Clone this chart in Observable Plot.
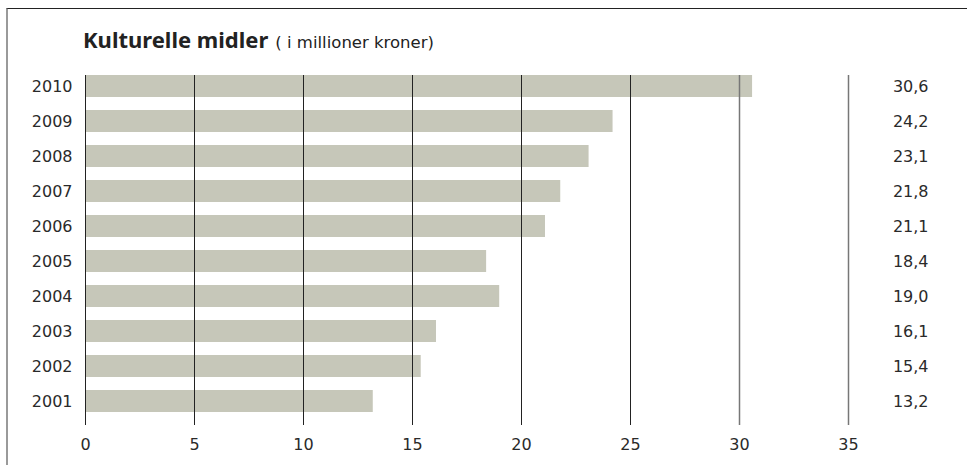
<!DOCTYPE html>
<html>
<head>
<meta charset="utf-8">
<script src="https://cdn.jsdelivr.net/npm/d3@7"></script>
<script src="https://cdn.jsdelivr.net/npm/@observablehq/plot@0.6"></script>
<style>
  html, body { margin: 0; padding: 0; background: #fff; }
  #wrap { position: relative; width: 967px; height: 465px; overflow: hidden; font-family: "DejaVu Sans", sans-serif; }
  #frame { position: absolute; left: 6px; top: 8px; right: -10px; bottom: -10px; border-left: 2px solid #9a9a9a; border-top: 1px solid #222; }
  #title { position: absolute; left: 83px; top: 28px; line-height: 1; white-space: nowrap; color: #222; }
  #title b { font-family: "Noto Sans", sans-serif; font-size: 22px; font-weight: 700; }
  #title span { font-family: "DejaVu Sans", sans-serif; font-size: 16.5px; margin-left: 2px; }
  #chart { position: absolute; left: 0; top: 0; }
</style>
</head>
<body>
<div id="wrap">
  <div id="frame"></div>
  <div id="chart"></div>
  <div id="title"><b>Kulturelle midler</b> <span>( i millioner kroner)</span></div>
</div>
<script>
const years = ["2010", "2009", "2008", "2007", "2006", "2005", "2004", "2003", "2002", "2001"];
const values = [30.6, 24.2, 23.1, 21.8, 21.1, 18.4, 19.0, 16.1, 15.4, 13.2];
const xTicks = [0, 5, 10, 15, 20, 25, 30, 35];

const data = years.map((y, i) => ({year: y, value: values[i]}));
const fmt = v => v.toFixed(1).replace(".", ",");

const chart = Plot.plot({
  width: 967,
  height: 465,
  marginLeft: 85,
  marginRight: 119,
  marginTop: 75,
  marginBottom: 40,
  style: {fontFamily: "DejaVu Sans, sans-serif", fontSize: "16px", color: "#2a2a2a", background: "transparent"},
  x: {domain: [0, 35]},
  y: {domain: years, paddingInner: 0.36, paddingOuter: 0.118, align: 0},
  marks: [
    Plot.barX(data, {x: "value", y: "year", fill: "#c6c7b9"}),
    Plot.ruleX(xTicks, {stroke: d => d >= 30 ? "#777" : "#222", strokeWidth: d => d >= 30 ? 1.5 : 1}),
    Plot.axisX({ticks: xTicks, tickSize: 0, tickPadding: 13, label: null, fontSize: 16}),
    Plot.axisY({tickSize: 0, tickPadding: 13, label: null, fontSize: 16}),
    Plot.text(data, {y: "year", text: d => fmt(d.value), frameAnchor: "right", dx: 80, textAnchor: "end", fontSize: 16, fill: "#2a2a2a"})
  ]
});
document.getElementById("chart").appendChild(chart);
</script>
</body>
</html>
